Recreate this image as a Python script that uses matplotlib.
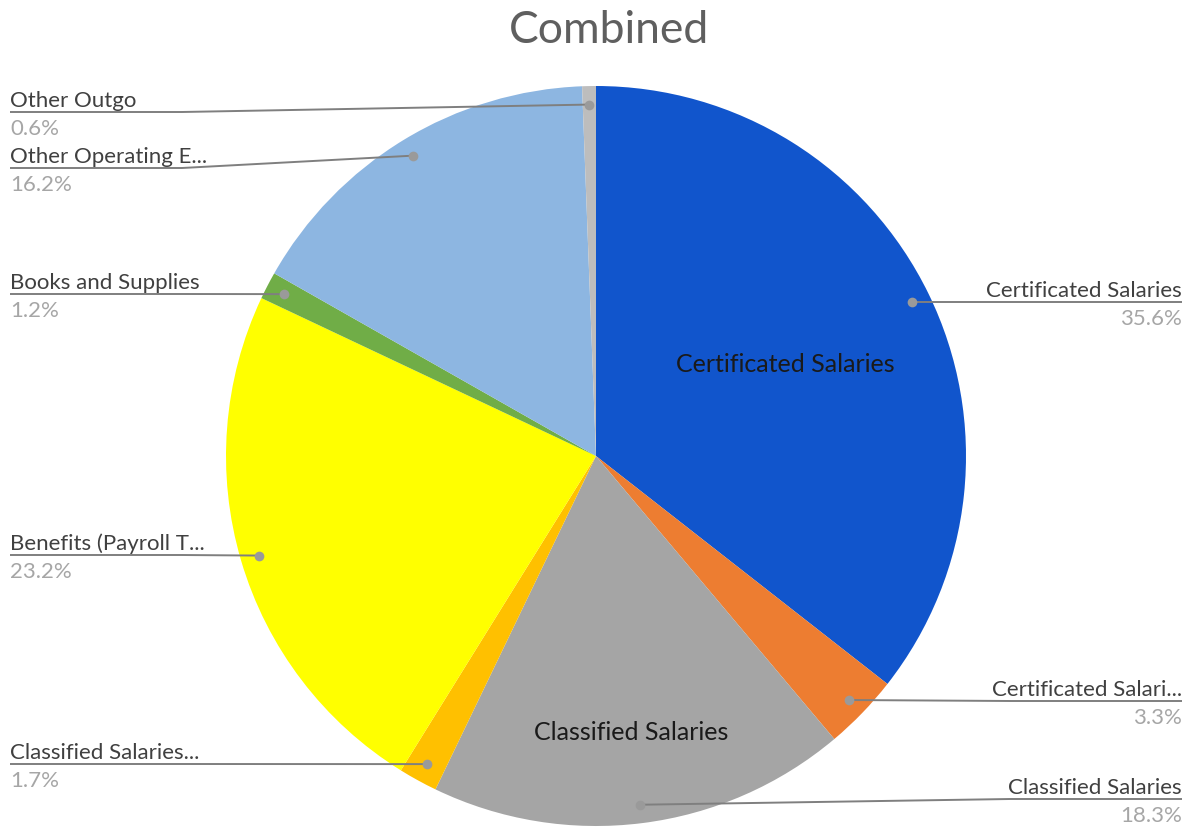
import numpy as np
import matplotlib
matplotlib.use("Agg")
import matplotlib.pyplot as plt

plt.rcParams["font.family"] = ["Lato", "DejaVu Sans"]

# =========================
# DATA
# =========================
categories = [
    "Certificated Salaries",
    "Certificated Salari...",
    "Classified Salaries",
    "Classified Salaries...",
    "Benefits (Payroll T...",
    "Books and Supplies",
    "Other Operating E...",
    "Other Outgo",
]
shares = [35.6, 3.3, 18.3, 1.7, 23.2, 1.2, 16.2, 0.6]
colors = ["#1155CC", "#ED7D31", "#A5A5A5", "#FFC000",
          "#FFFF00", "#70AD47", "#8DB6E1", "#BDBDBD"]

# slices that also carry a label inside the pie
inside = {0: 0.57, 2: 0.75}

# =========================
# LAYOUT (pixels, y measured from top)
# =========================
W, H = 1188, 828
CX, CY, R = 596, 457, 370
side = ["R", "R", "R", "L", "L", "L", "L", "L"]
line_y = [303, 702, 800, 765, 556, 295, 169, 113]
LEFT_X, RIGHT_X, ELBOW = 10, 1182, 172


def py(y):
    return H - y


fig = plt.figure(figsize=(W / 100, H / 100), dpi=100)
ax = fig.add_axes([0, 0, 1, 1])

wedges, _ = ax.pie(
    shares,
    colors=colors,
    startangle=90,
    counterclock=False,
    radius=R,
    center=(CX, py(CY)),
    wedgeprops=dict(linewidth=0),
)

# pie() autoscales, so fix the pixel frame afterwards
ax.set_xlim(0, W)
ax.set_ylim(0, H)
ax.set_aspect("equal")
ax.axis("off")

for i, w in enumerate(wedges):
    mid = np.deg2rad((w.theta1 + w.theta2) / 2)
    dx, dy = np.cos(mid), np.sin(mid)
    dot = (CX + 0.95 * R * dx, py(CY) + 0.95 * R * dy)
    ly = py(line_y[i])

    if side[i] == "L":
        xs = [LEFT_X, LEFT_X + ELBOW, dot[0]]
        tx, ha = LEFT_X, "left"
    else:
        xs = [RIGHT_X, RIGHT_X - ELBOW, dot[0]]
        tx, ha = RIGHT_X, "right"
    ax.plot(xs, [ly, ly, dot[1]], color="#7F7F7F", lw=1.4,
            solid_capstyle="butt", zorder=3)
    ax.plot(*dot, "o", ms=7, color="#9A9A9A", mec="none", zorder=4)

    ax.text(tx, ly + 6, categories[i], ha=ha, va="baseline",
            fontsize=16, color="#404040")
    ax.text(tx, ly - 6, f"{shares[i]:.1f}%", ha=ha, va="top",
            fontsize=16, color="#A6A6A6")

    if i in inside:
        f = inside[i]
        ax.text(CX + f * R * dx, py(CY) + f * R * dy, categories[i],
                ha="center", va="center", fontsize=18, color="#1A1A1A")

ax.text(W / 2 + 15, py(30), "Combined", ha="center", va="center",
        fontsize=32, color="#5F5F5F")

fig.savefig("out.png", dpi=100, facecolor="white")
